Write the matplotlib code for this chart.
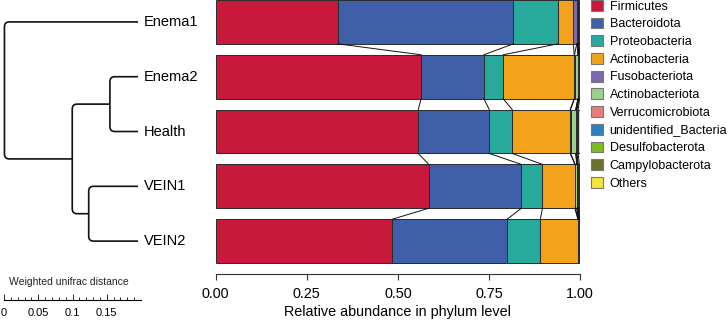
import matplotlib
matplotlib.use("Agg")
import matplotlib.pyplot as plt
from matplotlib.patches import Patch, PathPatch
from matplotlib.path import Path
import numpy as np

plt.rcParams["font.family"] = ["Liberation Sans", "DejaVu Sans"]

# ── data ─────────────────────────────────────────────────────────────
samples = ["Enema1", "Enema2", "Health", "VEIN1", "VEIN2"]
phyla = ["Firmicutes", "Bacteroidota", "Proteobacteria", "Actinobacteria",
         "Fusobacteriota", "Actinobacteriota", "Verrucomicrobiota",
         "unidentified_Bacteria", "Desulfobacterota", "Campylobacterota", "Others"]
colors = ["#C8193A", "#3F60A9", "#27A99C", "#F3A21C", "#7D68B0", "#9DD08F",
          "#E87C7C", "#2E7EC2", "#7DBA24", "#6E7030", "#F0E53A"]
enema1 = [0.335, 0.482, 0.122, 0.043, 0.009, 0.001, 0.001, 0.001, 0.001, 0.003, 0.002]
enema2 = [0.564, 0.172, 0.053, 0.195, 0.001, 0.009, 0.001, 0.001, 0.001, 0.002, 0.001]
health = [0.556, 0.195, 0.063, 0.159, 0.001, 0.014, 0.001, 0.001, 0.002, 0.003, 0.005]
vein1 = [0.585, 0.254, 0.058, 0.089, 0.001, 0.004, 0.001, 0.001, 0.002, 0.003, 0.002]
vein2 = [0.485, 0.315, 0.091, 0.103, 0.001, 0.001, 0.001, 0.001, 0.001, 0.001, 0.000]
abund = np.array([enema1, enema2, health, vein1, vein2])

# dendrogram merges: (child_a, child_b, height); leaves are 0..4, new nodes 5..
merges = [(1, 2, 0.041), (3, 4, 0.072), (5, 6, 0.096), (0, 7, 0.195)]

W, H = 728, 324
fig = plt.figure(figsize=(W / 100, H / 100), dpi=100)

# ── stacked bars ─────────────────────────────────────────────────────
ax = fig.add_axes([215.7 / W, 50 / H, 364.3 / W, 274 / H])
ypos = np.arange(len(samples))
bh = 0.8
left = np.zeros(len(samples))
for j, ph in enumerate(phyla):
    ax.barh(ypos, abund[:, j], left=left, height=bh, color=colors[j],
            edgecolor="#2a2a2a", linewidth=0.7)
    left += abund[:, j]
cum = np.cumsum(abund, axis=1)
for i in range(len(samples) - 1):
    for k in range(cum.shape[1] - 1):
        ax.plot([cum[i, k], cum[i + 1, k]], [i + bh / 2, i + 1 - bh / 2],
                color="#111", lw=0.7)
ax.set_ylim(4.6, -0.4)
ax.set_xlim(0, 1)
ax.set_yticks([])
for s in ["top", "right", "left"]:
    ax.spines[s].set_visible(False)
ax.spines["bottom"].set_bounds(0, 1)
ax.spines["bottom"].set_color("#333")
ax.set_xticks([0, 0.25, 0.5, 0.75, 1.0])
ax.set_xticklabels(["0.00", "0.25", "0.50", "0.75", "1.00"])
ax.tick_params(axis="x", length=4.5, width=0.8, color="#333", labelsize=10.4, pad=5)
ax.set_xlabel("Relative abundance in phylum level", fontsize=10.4, labelpad=3)

# ── legend ───────────────────────────────────────────────────────────
handles = [Patch(facecolor=c, edgecolor="#777", linewidth=0.8) for c in colors]
fig.legend(handles, phyla, loc="upper left", bbox_to_anchor=(591 / W, 1.0),
           frameon=False, fontsize=9, handlelength=0.95, handleheight=0.95,
           handletextpad=0.55, labelspacing=0.4, borderpad=0, borderaxespad=0)

# ── dendrogram ───────────────────────────────────────────────────────
axd = fig.add_axes([0, 50 / H, 138 / W, 274 / H])
axd.set_ylim(4.6, -0.4)
axd.set_xlim(0.2015, 0)
axd.axis("off")
node_y = {i: float(i) for i in range(len(samples))}
node_h = {i: 0.0 for i in range(len(samples))}
rx, ry = 0.007, 0.09
for n, (a, b, h) in enumerate(merges, start=len(samples)):
    ya, yb = node_y[a], node_y[b]
    verts = [(node_h[a], ya), (h - rx, ya), (h, ya), (h, ya + ry),
             (h, yb - ry), (h, yb), (h - rx, yb), (node_h[b], yb)]
    codes = [Path.MOVETO, Path.LINETO, Path.CURVE3, Path.CURVE3,
             Path.LINETO, Path.CURVE3, Path.CURVE3, Path.LINETO]
    axd.add_patch(PathPatch(Path(verts, codes), fill=False, lw=1.2,
                            edgecolor="#111", clip_on=False))
    node_y[n] = (ya + yb) / 2
    node_h[n] = h
for i, name in enumerate(samples):
    axd.annotate(name, (0, i), xytext=(4, 0), textcoords="offset points",
                 ha="left", va="center", fontsize=10.5, annotation_clip=False)

# ── scale bar ────────────────────────────────────────────────────────
axs = fig.add_axes([4 / W, (H - 299.5) / H, 137 / W, 0.01])
axs.set_xlim(0, 0.2)
axs.set_yticks([])
for s in ["top", "right", "left"]:
    axs.spines[s].set_visible(False)
axs.patch.set_visible(False)
axs.spines["bottom"].set_linewidth(0.8)
axs.set_xticks([0, 0.05, 0.1, 0.15])
axs.set_xticklabels(["0", "0.05", "0.1", "0.15"])
axs.set_xticks(np.arange(0, 0.2, 0.01), minor=True)
axs.tick_params(axis="x", which="major", direction="in", length=4, width=0.6,
                labelsize=8, pad=6)
axs.tick_params(axis="x", which="minor", direction="in", length=2.5, width=0.6)
fig.text(69 / W, 1 - 282 / H, "Weighted unifrac distance", ha="center",
         va="center", fontsize=7.5, color="#222")

fig.savefig("out.png", dpi=100)
